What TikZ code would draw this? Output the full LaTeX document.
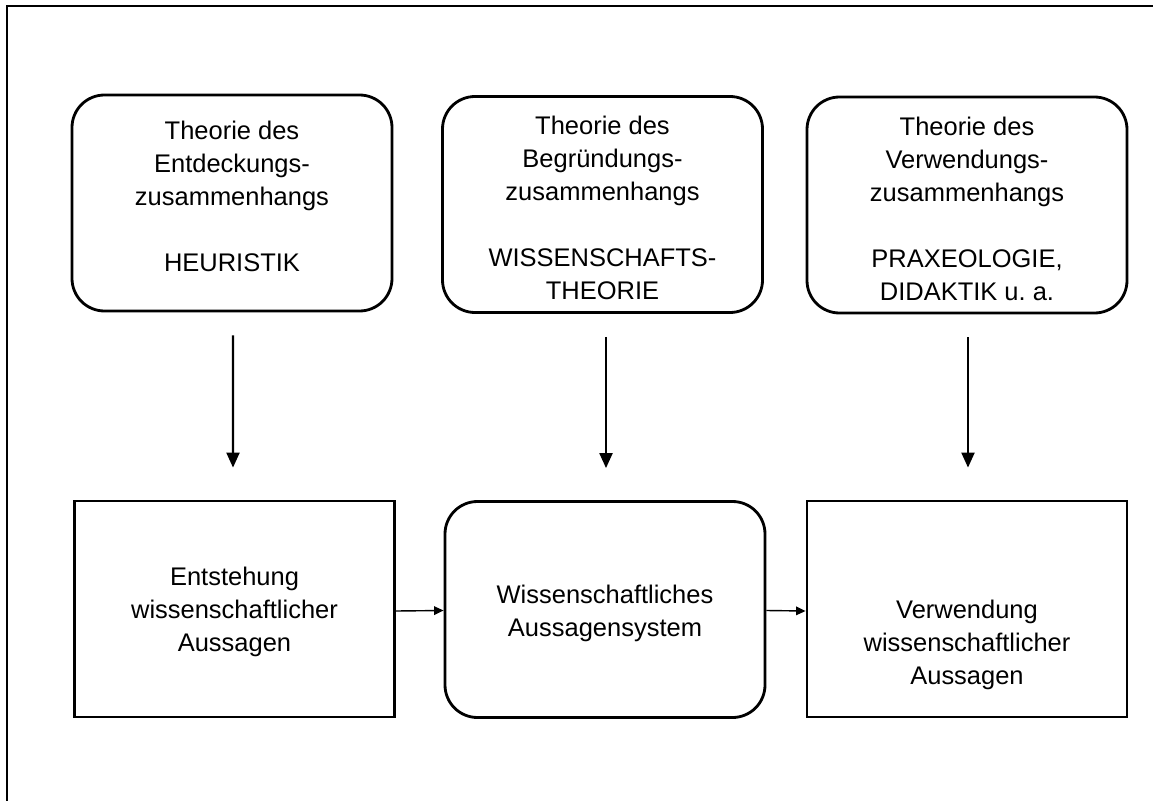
\documentclass[tikz,border=0pt]{standalone}
\usepackage{fontspec}
\setmainfont{Liberation Sans}
\usetikzlibrary{arrows.meta}
\tikzset{
  box/.style={draw,line width=1.6pt,minimum width=6.4cm,minimum height=4.32cm,inner sep=0pt},
  rbox/.style={box,rounded corners=0.65cm},
  txt/.style={align=center,font=\fontsize{14.5}{18.8}\selectfont},
  down/.style={line width=1.2pt,-{Triangle[length=0.3cm,width=0.26cm]},shorten <=0.46cm,shorten >=0.64cm},
  side/.style={line width=0.8pt,-{Triangle[length=0.19cm,width=0.17cm]}}
}
\begin{document}
\begin{tikzpicture}
	\useasboundingbox (0,0) rectangle (23.06,-16.02);
	% frame
	\draw[line width=0.7pt] (0.14,-16.02) -- (0.14,-0.12) -- (23.06,-0.12);
	% theories
	\node[rbox,label={[txt,yshift=0.13cm]center:{Theorie des\\Entdeckungs-\\zusammenhangs\\[18.8pt]HEURISTIK}}] (heur) at (4.64,-4.06) {};
	\node[rbox,label={[txt,yshift=-0.07cm]center:{Theorie des\\Begründungs-\\zusammenhangs\\[18.8pt]WISSENSCHAFTS-\\THEORIE}}] (wiss) at (12.05,-4.09) {};
	\node[rbox,label={[txt,yshift=-0.07cm]center:{Theorie des\\Verwendungs-\\zusammenhangs\\[18.8pt]PRAXEOLOGIE,\\DIDAKTIK u.\ a.}}] (prax) at (19.34,-4.10) {};
	% statements
	\node[box,label={[txt,yshift=-0.06cm]center:{Entstehung\\wissenschaftlicher\\Aussagen}}] (entst) at (4.69,-12.18) {};
	\node[rbox,label={[txt,yshift=-0.08cm]center:{Wissenschaftliches\\Aussagensystem}}] (system) at (12.10,-12.19) {};
	\node[box,label={[txt,yshift=-0.72cm]center:{Verwendung\\wissenschaftlicher\\Aussagen}}] (verw) at (19.34,-12.18) {};
	% arrows
	\draw[down] ([xshift=0.02cm]heur.south) -- ([xshift=-0.03cm]entst.north);
	\draw[down] ([xshift=0.07cm]wiss.south) -- ([xshift=0.02cm]system.north);
	\draw[down] ([xshift=0.02cm]prax.south) -- ([xshift=0.02cm]verw.north);
	\draw[side] ([yshift=-0.04cm]entst.east) -- ([yshift=-0.02cm]system.west);
	\draw[side] ([yshift=-0.02cm]system.east) -- ([yshift=-0.04cm]verw.west);
\end{tikzpicture}
\end{document}
